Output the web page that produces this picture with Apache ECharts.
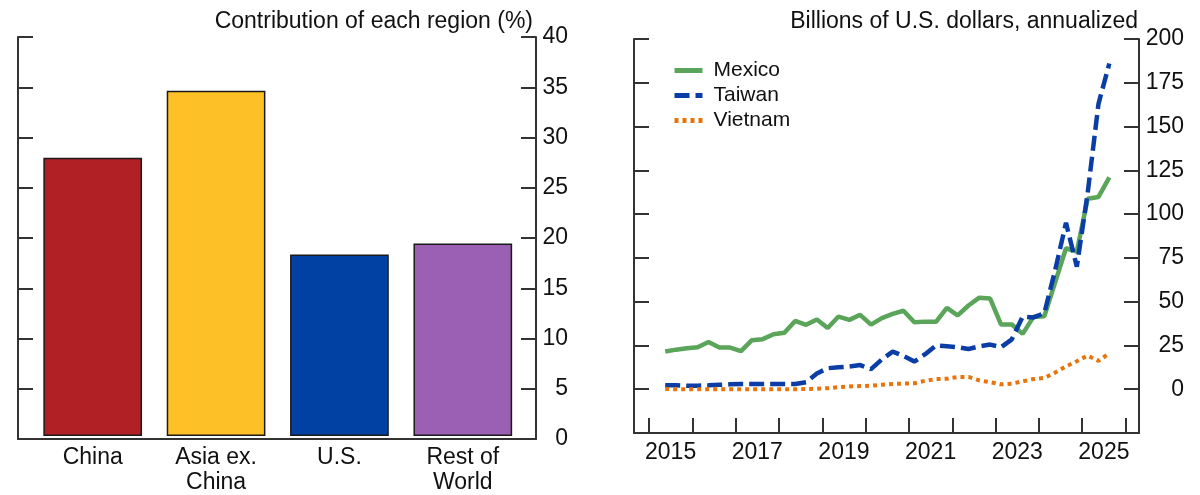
<!DOCTYPE html>
<html>
<head>
<meta charset="utf-8">
<title>Contribution by region and imports</title>
<script src="https://cdn.jsdelivr.net/npm/echarts@6/dist/echarts.min.js"></script>
<style>
  html, body { margin: 0; padding: 0; background: #fff; }
  #chart { width: 1200px; height: 495px; }
</style>
</head>
<body>
<div id="chart"></div>
<script>
// left panel: contribution of each region (%)
const regions = ['China', 'Asia ex.\nChina', 'U.S.', 'Rest of\nWorld'];
const contribution = [27.9, 34.6, 18.2, 19.3];
const regionColors = ['#b02024', '#fdc026', '#0041a3', '#9b5fb4'];

// right panel: billions of U.S. dollars, annualized (quarterly)
const quarters = [
  '2015Q2', '2015Q3', '2015Q4', '2016Q1', '2016Q2', '2016Q3', '2016Q4',
  '2017Q1', '2017Q2', '2017Q3', '2017Q4', '2018Q1', '2018Q2', '2018Q3', '2018Q4',
  '2019Q1', '2019Q2', '2019Q3', '2019Q4', '2020Q1', '2020Q2', '2020Q3', '2020Q4',
  '2021Q1', '2021Q2', '2021Q3', '2021Q4', '2022Q1', '2022Q2', '2022Q3', '2022Q4',
  '2023Q1', '2023Q2', '2023Q3', '2023Q4', '2024Q1', '2024Q2', '2024Q3', '2024Q4',
  '2025Q1', '2025Q2', '2025Q3'
];
const mexico = [
  21.5, 22.6, 23.4, 24.0, 27.0, 23.8, 23.8,
  21.8, 28.0, 28.6, 31.4, 32.2, 39.0, 36.8, 39.8,
  35.0, 41.5, 39.6, 42.5, 36.9, 40.6, 43.0, 44.8,
  38.2, 38.6, 38.5, 46.5, 42.2, 47.8, 52.3, 51.8,
  37.0, 37.0, 31.6, 41.3, 41.7, 61.0, 80.5, 78.6,
  108.8, 109.8, 121.0
];
const taiwan = [
  2.3, 2.2, 2.0, 2.0, 2.2, 2.5, 2.8,
  3.0, 3.0, 3.0, 3.0, 3.0, 3.0, 4.0, 9.0,
  12.0, 12.5, 13.0, 13.8, 11.5, 17.0, 21.5, 19.0,
  15.8, 20.0, 25.0, 24.5, 24.0, 23.0, 24.5, 25.5,
  24.0, 28.5, 41.5, 41.0, 43.5, 68.0, 95.0, 70.0,
  112.0, 163.0, 186.0
];
const vietnam = [
  0.1, 0.0, 0.0, 0.0, 0.0, 0.0, 0.0,
  0.0, 0.0, 0.0, 0.0, 0.0, 0.0, 0.1, 0.3,
  0.6, 1.2, 1.6, 1.8, 2.0, 2.5, 3.0, 3.2,
  3.4, 4.8, 5.8, 6.0, 7.0, 7.0, 5.0, 4.0,
  2.8, 3.2, 4.5, 5.8, 6.5, 9.5, 13.0, 16.0,
  19.2, 16.2, 20.5
];
const yearTicks = [2015, 2016, 2017, 2018, 2019, 2020, 2021, 2022, 2023, 2024, 2025, 2026];
const yearLabels = [2015, 2017, 2019, 2021, 2023, 2025];

// quarter -> position on a fractional-year axis (middle of the quarter)
function quarterPos(q) {
  const y = Number(q.slice(0, 4));
  const n = Number(q.slice(5));
  return y + (n - 1) * 0.25 + 0.125;
}
function toPairs(values) {
  return values.map((v, i) => [quarterPos(quarters[i]), v]);
}

const font = "'Liberation Sans', Arial, sans-serif";
const ink = '#111';
const axisColor = '#333';
const axisLine = { show: true, onZero: false, lineStyle: { color: axisColor, width: 2 } };
const tickIn = { show: true, inside: true, length: 15, lineStyle: { color: axisColor, width: 2 } };

const chart = echarts.init(document.getElementById('chart'));

const option = {
  animation: false,
  backgroundColor: '#fff',
  textStyle: { fontFamily: font },
  title: [
    {
      text: 'Contribution of each region (%)',
      right: 1200 - 533, top: 10, padding: 0,
      textStyle: { fontFamily: font, fontSize: 23, fontWeight: 'normal', color: ink }
    },
    {
      text: 'Billions of U.S. dollars, annualized',
      right: 1200 - 1138, top: 10, padding: 0,
      textStyle: { fontFamily: font, fontSize: 23, fontWeight: 'normal', color: ink }
    }
  ],
  legend: {
    data: ['Mexico', 'Taiwan', 'Vietnam'],
    orient: 'vertical',
    left: 672, top: 60,
    padding: 0,
    itemWidth: 28, itemHeight: 14, itemGap: 4,
    // hide the default symbol drawn on top of the line sample
    itemStyle: { opacity: 0 },
    lineStyle: { width: 5 },
    textStyle: { fontFamily: font, fontSize: 21, color: ink, padding: [0, 0, 0, 6] }
  },
  grid: [
    { left: 18, right: 664, top: 37, bottom: 56 },
    { left: 31, right: 675.5, top: 37, bottom: 56 },
    { left: 634, right: 61, top: 39, bottom: 62 }
  ],
  xAxis: [
    {
      gridIndex: 0, type: 'value', min: 0, max: 1,
      axisLine: axisLine, axisTick: { show: false }, axisLabel: { show: false }, splitLine: { show: false }
    },
    {
      gridIndex: 1, type: 'category', data: regions,
      axisLine: { show: false }, axisTick: { show: false }, splitLine: { show: false },
      axisLabel: { fontFamily: font, fontSize: 23, color: ink, margin: 9, lineHeight: 25, interval: 0 }
    },
    {
      gridIndex: 2, type: 'value', min: 2014.655, max: 2026.31,
      axisLine: axisLine,
      axisTick: Object.assign({ customValues: yearTicks }, tickIn),
      axisLabel: {
        customValues: yearLabels.map(y => y + 0.5),
        formatter: v => String(Math.floor(v)),
        fontFamily: font, fontSize: 23, color: ink, margin: 8
      },
      splitLine: { show: false }
    }
  ],
  yAxis: [
    {
      gridIndex: 0, type: 'value', position: 'left', min: 0, max: 40, interval: 5,
      axisLine: axisLine, axisTick: tickIn, axisLabel: { show: false }, splitLine: { show: false }
    },
    {
      gridIndex: 0, type: 'value', position: 'right', min: 0, max: 40, interval: 5,
      axisLine: axisLine, axisTick: tickIn, splitLine: { show: false },
      axisLabel: { align: 'right', margin: 32, fontFamily: font, fontSize: 23, color: ink }
    },
    { gridIndex: 1, type: 'value', min: 0, max: 40, show: false },
    {
      gridIndex: 2, type: 'value', position: 'left', min: -25, max: 200, interval: 25,
      axisLine: axisLine, axisTick: tickIn, axisLabel: { show: false }, splitLine: { show: false }
    },
    {
      gridIndex: 2, type: 'value', position: 'right', min: -25, max: 200, interval: 25,
      axisLine: axisLine, axisTick: tickIn, splitLine: { show: false },
      axisLabel: {
        align: 'right', margin: 45, fontFamily: font, fontSize: 23, color: ink,
        formatter: v => (v < 0 ? '' : String(v))
      }
    }
  ],
  series: [
    {
      type: 'bar', xAxisIndex: 1, yAxisIndex: 2,
      barCategoryGap: '20%',
      data: contribution.map((v, i) => ({ value: v, itemStyle: { color: regionColors[i] } })),
      itemStyle: { borderColor: '#1a1a1a', borderWidth: 1.5 }
    },
    {
      name: 'Mexico', type: 'line', xAxisIndex: 2, yAxisIndex: 4,
      data: toPairs(mexico), symbol: 'none', showSymbol: false,
      itemStyle: { color: '#5aa55a' },
      lineStyle: { color: '#5aa55a', width: 4.5 }
    },
    {
      name: 'Taiwan', type: 'line', xAxisIndex: 2, yAxisIndex: 4,
      data: toPairs(taiwan), symbol: 'none', showSymbol: false,
      itemStyle: { color: '#0a3ea6' },
      lineStyle: { color: '#0a3ea6', width: 4.5, type: [15, 6] }
    },
    {
      name: 'Vietnam', type: 'line', xAxisIndex: 2, yAxisIndex: 4,
      data: toPairs(vietnam), symbol: 'none', showSymbol: false,
      itemStyle: { color: '#e8740c' },
      lineStyle: { color: '#e8740c', width: 4, type: [4, 4] }
    }
  ]
};

chart.setOption(option);
window.onresize = function () {
  chart.resize();
};
</script>
</body>
</html>
